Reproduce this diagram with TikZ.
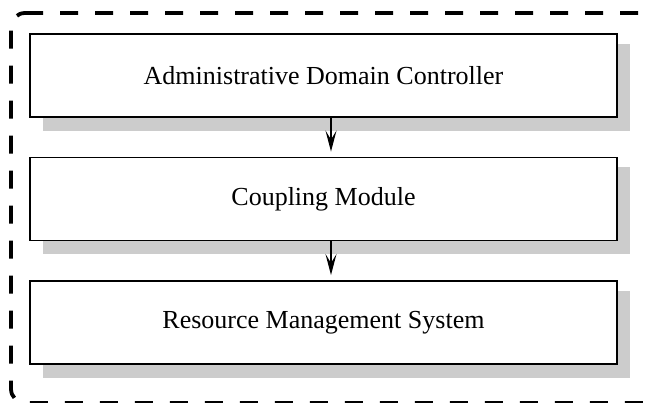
\documentclass[tikz,border=0pt]{standalone}
\usepackage{fontspec}
\setmainfont{Liberation Serif}
\usetikzlibrary{arrows.meta}
\tikzset{
  layerbox/.style={draw=black, line width=1.9pt, fill=white, minimum width=587pt,
    minimum height=83pt, inner sep=0pt, font=\fontsize{26}{31}\selectfont},
  layershadow/.style={fill=black!20, draw=none},
  flow/.style={draw=black, line width=1.6pt,
    -{Stealth[length=21pt, width=11pt, inset=9pt]}, shorten >=5pt},
  frame/.style={draw=black, line width=3.8pt, dash pattern=on 18pt off 17pt,
    rounded corners=14pt}
}
\begin{document}
\begin{tikzpicture}[x=1pt, y=-1pt]
  \useasboundingbox (0,0) rectangle (649,403);
  \clip (0,0) rectangle (649,403);

  % enclosing domain boundary
  \draw[frame] (11,13) -- (670,13) -- (670,403) -- (11,403) -- cycle;

  % drop shadows of the three layers
  \fill[layershadow] (43,44) rectangle (630,131);
  \fill[layershadow] (43,167) rectangle (630,254);
  \fill[layershadow] (43,291) rectangle (630,378);

  % layers
  \node[layerbox] (adc) at (323.5,75.5) {Administrative Domain Controller};
  \node[layerbox] (cm)  at (323.5,199)  {Coupling Module};
  \node[layerbox] (rms) at (323.5,322.5) {Resource Management System};

  % control flow between layers
  \coordinate (a1) at (331,0);
  \draw[flow] (adc.south -| a1) -- (cm.north -| a1);
  \draw[flow] (cm.south -| a1) -- (rms.north -| a1);
\end{tikzpicture}
\end{document}
